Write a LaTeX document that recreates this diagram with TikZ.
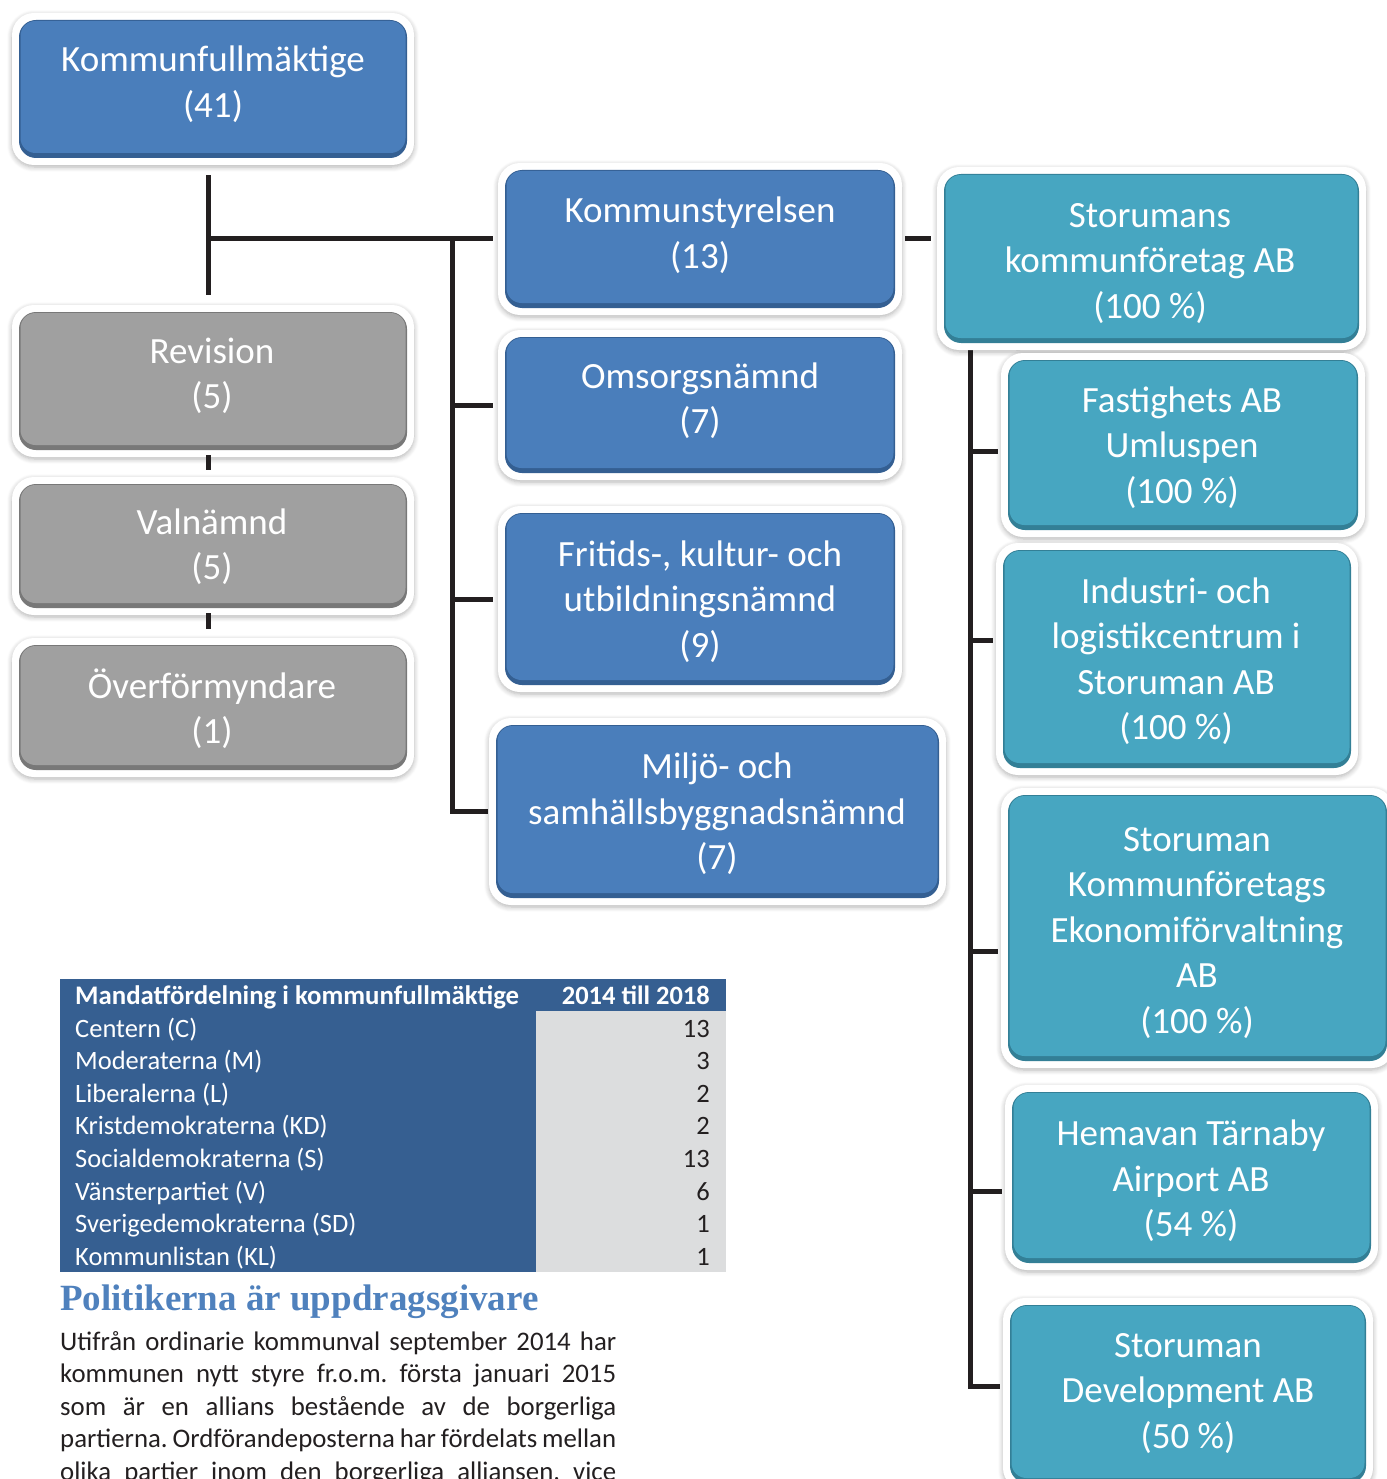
\documentclass[tikz,border=0pt]{standalone}
\usepackage{fontspec}
\setmainfont{Carlito}
\newfontfamily\headfont{Liberation Serif}
\usetikzlibrary{shadows.blur}
\definecolor{bluebase}{HTML}{4A7EBB}
\definecolor{bluedark}{HTML}{345F92}
\definecolor{greybase}{HTML}{A0A0A0}
\definecolor{greydark}{HTML}{787878}
\definecolor{tealbase}{HTML}{47A6C1}
\definecolor{tealdark}{HTML}{337F96}
\definecolor{linecol}{HTML}{231F20}
\definecolor{tabblue}{HTML}{365F91}
\definecolor{tabgrey}{HTML}{DCDDDE}
\definecolor{headblue}{HTML}{4F81BD}
\pgfdeclarelayer{bg}
\pgfsetlayers{bg,main}
\frenchspacing
\tikzset{
  orgbox/.style={rectangle, rounded corners=22pt, fill=white, draw=none, inner sep=0pt,
    blur shadow={shadow xshift=0pt, shadow yshift=-2pt, shadow blur radius=5pt, shadow blur steps=6, shadow opacity=30},
    path picture={
      \fill[#1dark, rounded corners=17pt] ([shift={(7pt,7pt)}]path picture bounding box.south west) rectangle ([shift={(-7pt,-7pt)}]path picture bounding box.north east);
      \fill[#1base, rounded corners=15pt] ([shift={(8.5pt,12pt)}]path picture bounding box.south west) rectangle ([shift={(-8.5pt,-8pt)}]path picture bounding box.north east);
    }},
  boxtext/.style={font=\fontsize{37}{45.5}\selectfont, text=white, align=center, inner sep=0pt,
    execute at begin node=\strut, execute at end node=\strut},
  conn/.style={draw=linecol, line width=5pt},
  tabtext/.style={font=\fontsize{26.5}{32}\selectfont, text=white, inner sep=0pt},
  tabnum/.style={font=\fontsize{26.5}{32}\selectfont, text=linecol, inner sep=0pt, anchor=base east},
  bodyline/.style={font=\fontsize{26.8}{32}\selectfont, text=linecol, inner sep=0pt, anchor=base west},
}
\begin{document}
\begin{tikzpicture}[x=1pt,y=-1pt]
\useasboundingbox (0,0) rectangle (1386,1479);
% boxes
\node[orgbox=blue, minimum width=402pt, minimum height=152pt] (kf) at (213,89) {};
\node[orgbox=blue, minimum width=404pt, minimum height=152pt] (ks) at (700,239) {};
\node[orgbox=blue, minimum width=404pt, minimum height=150pt] (oms) at (700,405) {};
\node[orgbox=blue, minimum width=404pt, minimum height=186pt] (fri) at (700,599) {};
\node[orgbox=blue, minimum width=457pt, minimum height=187pt] (mil) at (717.5,811.5) {};
\node[orgbox=grey, minimum width=402pt, minimum height=152pt] (rev) at (213,381) {};
\node[orgbox=grey, minimum width=402pt, minimum height=138pt] (val) at (213,546) {};
\node[orgbox=grey, minimum width=402pt, minimum height=139pt] (ovf) at (213,707.5) {};
\node[orgbox=teal, minimum width=429pt, minimum height=183pt] (skab) at (1151.5,258.5) {};
\node[orgbox=teal, minimum width=364pt, minimum height=184pt] (fast) at (1183,445) {};
\node[orgbox=teal, minimum width=362pt, minimum height=232pt] (ind) at (1177,659) {};
\node[orgbox=teal, minimum width=393pt, minimum height=280pt] (eko) at (1197.5,928) {};
\node[orgbox=teal, minimum width=373pt, minimum height=185pt] (hem) at (1191.5,1177.5) {};
\node[orgbox=teal, minimum width=370pt, minimum height=192pt] (dev) at (1188,1394) {};
% texts
\node[boxtext] (kf-t) at (213,88.5) {Kommunfullmäktige\\(41)};
\node[boxtext] (ks-t) at (700,239.5) {Kommunstyrelsen\\(13)};
\node[boxtext] (oms-t) at (700,405) {Omsorgsnämnd\\(7)};
\node[boxtext] (fri-t) at (700,605.5) {Fritids-, kultur- och\\utbildningsnämnd\\(9)};
\node[boxtext] (mil-t) at (717,818) {Miljö- och\\samhällsbyggnadsnämnd\\(7)};
\node[boxtext] (rev-t) at (212,380) {Revision\\(5)};
\node[boxtext] (val-t) at (212,551) {Valnämnd\\(5)};
\node[boxtext] (ovf-t) at (212,713) {Överförmyndare\\(1)};
\node[boxtext] (skab-t) at (1150,267.5) {Storumans\\kommunföretag AB\\(100 \%)};
\node[boxtext] (fast-t) at (1182,451.5) {Fastighets AB\\Umluspen\\(100 \%)};
\node[boxtext] (ind-t) at (1176,665.5) {Industri- och\\logistikcentrum i\\Storuman AB\\(100 \%)};
\node[boxtext] (eko-t) at (1197,937) {Storuman\\Kommunföretags\\Ekonomiförvaltning\\AB\\(100 \%)};
\node[boxtext] (hem-t) at (1191,1185) {Hemavan Tärnaby\\Airport AB\\(54 \%)};
\node[boxtext] (dev-t) at (1188,1397.5) {Storuman\\Development AB\\(50 \%)};
% connectors
\coordinate (j1) at (208,239);
\coordinate (j2) at (452,239);
\coordinate (b1) at (970,451);
\coordinate (b2) at (970,640);
\coordinate (b3) at (970,951);
\coordinate (b4) at (970,1191);
\coordinate (b5) at (970,1386);
\begin{pgfonlayer}{bg}
\draw[conn] ([yshift=-10pt]kf.south -| j1) -- ([yshift=10pt]rev.north -| j1);
\draw[conn] (j1) -- ([xshift=-5pt]j1 -| ks.west);
\draw[conn] (j2) |- ([xshift=-1pt]mil.west);
\draw[conn] (j2 |- oms.west) -- ([xshift=-5pt]oms.west);
\draw[conn] (j2 |- fri.west) -- ([xshift=-5pt]fri.west);
\draw[conn] ([xshift=3pt]ks.east) -- ([xshift=-6pt]ks.east -| skab.west);
\draw[conn] (skab.south -| b1) -- (b5) -- ([xshift=-3pt]b5 -| dev.west);
\draw[conn] (b1) -- ([xshift=-3pt]b1 -| fast.west);
\draw[conn] (b2) -- ([xshift=-3pt]b2 -| ind.west);
\draw[conn] (b3) -- ([xshift=-3pt]b3 -| eko.west);
\draw[conn] (b4) -- ([xshift=-3pt]b4 -| hem.west);
\end{pgfonlayer}
\draw[conn] ([yshift=2pt]rev.south -| j1) -- ([yshift=7pt]val.north -| j1);
\draw[conn] ([yshift=2pt]val.south -| j1) -- ([yshift=9pt]ovf.north -| j1);
% table
\fill[tabblue] (60,979) rectangle (726,1272);
\fill[tabgrey] (536,1011) rectangle (726,1272);
\node[tabtext, anchor=base west, font=\fontsize{26.8}{32}\selectfont\bfseries] (th1) at (75,1004) {Mandatfördelning i kommunfullmäktige};
\node[tabtext, anchor=base east, font=\fontsize{26.5}{32}\selectfont\bfseries] (th2) at (710,1004) {2014 till 2018};
\node[tabtext, anchor=base west] (r1) at (75,1037) {Centern (C)};
\node[tabtext, anchor=base west] (r2) at (75,1069.6) {Moderaterna (M)};
\node[tabtext, anchor=base west] (r3) at (75,1102.2) {Liberalerna (L)};
\node[tabtext, anchor=base west] (r4) at (75,1134.8) {Kristdemokraterna (KD)};
\node[tabtext, anchor=base west] (r5) at (75,1167.4) {Socialdemokraterna (S)};
\node[tabtext, anchor=base west] (r6) at (75,1200) {Vänsterpartiet (V)};
\node[tabtext, anchor=base west] (r7) at (75,1232.6) {Sverigedemokraterna (SD)};
\node[tabtext, anchor=base west] (r8) at (75,1265.2) {Kommunlistan (KL)};
\node[tabnum] (n1) at (710,1037) {13};
\node[tabnum] (n2) at (710,1069.6) {3};
\node[tabnum] (n3) at (710,1102.2) {2};
\node[tabnum] (n4) at (710,1134.8) {2};
\node[tabnum] (n5) at (710,1167.4) {13};
\node[tabnum] (n6) at (710,1200) {6};
\node[tabnum] (n7) at (710,1232.6) {1};
\node[tabnum] (n8) at (710,1265.2) {1};
% heading and body
\node[anchor=base west, inner sep=0pt, text=headblue, font=\headfont\bfseries\fontsize{37}{44}\selectfont] (head) at (60,1310) {Politikerna är uppdragsgivare};
\node[bodyline] (l1) at (60,1350) {\makebox[556pt][s]{Utifrån ordinarie kommunval september 2014 har}};
\node[bodyline] (l2) at (60,1382.6) {\makebox[556pt][s]{kommunen nytt styre fr.o.m. första januari 2015}};
\node[bodyline] (l3) at (60,1415.2) {\makebox[556pt][s]{som är en allians bestående av de borgerliga}};
\node[bodyline] (l4) at (60,1447.8) {\makebox[556pt][s]{partierna. Ordförandeposterna har fördelats mellan}};
\node[bodyline] (l5) at (60,1480.4) {\makebox[556pt][s]{olika partier inom den borgerliga alliansen, vice}};
\end{tikzpicture}
\end{document}
